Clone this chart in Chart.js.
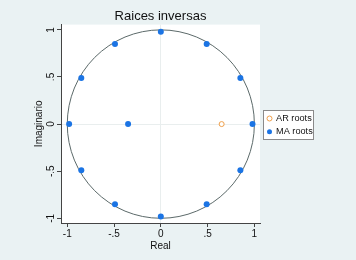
<!DOCTYPE html>
<html>
<head>
<meta charset="utf-8">
<script src="https://cdn.jsdelivr.net/npm/chart.js@4/dist/chart.umd.min.js"></script>
<style>
  html, body { margin: 0; padding: 0; background: #eaf2f3; }
  #wrap { width: 356px; height: 260px; position: relative; }
</style>
</head>
<body>
<div id="wrap"><canvas id="c"></canvas></div>
<script>
  const maReal = [0, 0.49, 0.85, 0.98, 0.85, 0.49, 0, -0.49, -0.85, -0.98, -0.85, -0.49, -0.35];
  const maImag = [0.98, 0.85, 0.49, 0, -0.49, -0.85, -0.98, -0.85, -0.49, 0, 0.49, 0.85, 0];
  const arReal = [0.65];
  const arImag = [0];
  const tickValues = [-1, -0.5, 0, 0.5, 1];
  const tickLabels = ["-1", "-.5", "0", ".5", "1"];

  const BLUE = "#1b74e4";
  const ORANGE = "#f0a04b";
  const FONT = '"Liberation Sans", Arial, sans-serif';

  function pts(xs, ys) {
    return xs.map(function (x, i) { return { x: x, y: ys[i] }; });
  }

  function setTicks(scale) {
    scale.ticks = tickValues.map(function (v) { return { value: v }; });
  }
  function fmt(v) {
    const i = tickValues.indexOf(v);
    return i >= 0 ? tickLabels[i] : "";
  }
  function gridCol(ctx) {
    return ctx.tick && ctx.tick.value === 0 ? "#e9eeee" : "rgba(0,0,0,0)";
  }

  // white plot region, unit circle, rotated y labels, legend box
  const extras = {
    id: "extras",
    beforeDraw(chart) {
      const a = chart.chartArea, c = chart.ctx;
      c.save();
      c.fillStyle = "#ffffff";
      c.fillRect(a.left, a.top, a.right - a.left, a.bottom - a.top);
      c.restore();
    },
    beforeDatasetsDraw(chart) {
      const c = chart.ctx, xs = chart.scales.x, ys = chart.scales.y;
      const cx = xs.getPixelForValue(0), cy = ys.getPixelForValue(0);
      const rx = xs.getPixelForValue(1) - cx, ry = cy - ys.getPixelForValue(1);
      c.save();
      c.strokeStyle = "#5c6a6a";
      c.lineWidth = 1;
      c.beginPath();
      c.ellipse(cx, cy, rx, ry, 0, 0, Math.PI * 2);
      c.stroke();
      c.restore();
    },
    afterDraw(chart) {
      const c = chart.ctx, ys = chart.scales.y;
      c.save();
      c.font = "10px " + FONT;
      c.fillStyle = "#111";
      c.textAlign = "center";
      c.textBaseline = "middle";
      tickValues.forEach(function (v, i) {
        c.save();
        c.translate(ys.right - 10, ys.getPixelForValue(v));
        c.rotate(-Math.PI / 2);
        c.fillText(tickLabels[i], 0, 0);
        c.restore();
      });

      const bx = 263, by = 110, bw = 50, bh = 29;
      c.fillStyle = "#ffffff";
      c.fillRect(bx, by, bw, bh);
      c.strokeStyle = "#8a8a8a";
      c.lineWidth = 1;
      c.strokeRect(bx + 0.5, by + 0.5, bw, bh);
      c.textAlign = "left";
      c.font = "9.2px " + FONT;
      chart.data.datasets.forEach(function (ds, i) {
        const yy = by + 8.5 + i * 13.3;
        c.beginPath();
        c.arc(bx + 6.5, yy, 2.5, 0, Math.PI * 2);
        if (ds.backgroundColor !== "#ffffff") {
          c.fillStyle = ds.backgroundColor;
          c.fill();
        } else {
          c.strokeStyle = ds.borderColor;
          c.lineWidth = 1;
          c.stroke();
        }
        c.fillStyle = "#111";
        c.fillText(ds.label, bx + 13, yy);
      });
      c.restore();
    }
  };

  new Chart(document.getElementById("c"), {
    type: "scatter",
    data: {
      datasets: [
        {
          label: "AR roots",
          data: pts(arReal, arImag),
          pointStyle: "circle",
          backgroundColor: "#ffffff",
          borderColor: ORANGE,
          borderWidth: 1,
          pointRadius: 2.5
        },
        {
          label: "MA roots",
          data: pts(maReal, maImag),
          pointStyle: "circle",
          backgroundColor: BLUE,
          borderColor: BLUE,
          borderWidth: 0,
          pointRadius: 3
        }
      ]
    },
    options: {
      responsive: true,
      maintainAspectRatio: false,
      animation: false,
      layout: { padding: { left: 33, right: 96, top: 0, bottom: 8 } },
      plugins: {
        legend: { display: false },
        tooltip: { enabled: false },
        title: {
          display: true,
          text: "Raices inversas",
          fullSize: false,
          color: "#111",
          font: { family: FONT, size: 13, weight: "normal" },
          padding: { top: 9, bottom: 0 }
        }
      },
      scales: {
        x: {
          type: "linear",
          min: -1.067,
          max: 1.06,
          afterBuildTicks: setTicks,
          afterFit: function (s) { s.height = 29; },
          border: { color: "#444", width: 1 },
          grid: { color: gridCol, tickColor: "#444", tickLength: 4 },
          ticks: { callback: fmt, color: "#111", padding: 1, maxRotation: 0, font: { family: FONT, size: 10 } },
          title: { display: true, text: "Real", color: "#111", padding: 0, font: { family: FONT, size: 10 } }
        },
        y: {
          type: "linear",
          min: -1.05,
          max: 1.056,
          afterBuildTicks: setTicks,
          afterFit: function (s) { s.width = 28; },
          border: { color: "#444", width: 1 },
          grid: { color: gridCol, tickColor: "#444", tickLength: 4 },
          ticks: { display: false, callback: fmt },
          title: { display: true, text: "Imaginario", color: "#111", padding: 0, font: { family: FONT, size: 10 } }
        }
      }
    },
    plugins: [extras]
  });
</script>
</body>
</html>
